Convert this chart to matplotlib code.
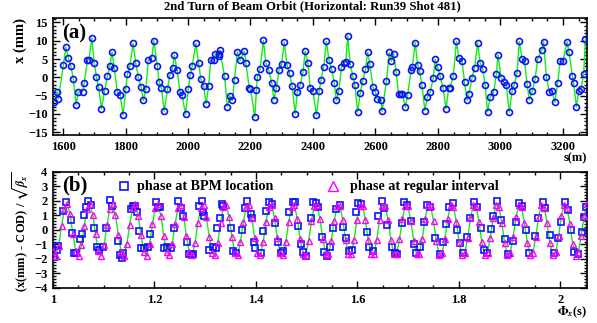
import numpy as np
import matplotlib
matplotlib.use("Agg")
import matplotlib.pyplot as plt
from matplotlib.ticker import MultipleLocator

# --- dane (a): orbita w BPM ---
s_bpm = [1571, 1582, 1585, 1601, 1609, 1617, 1625, 1633, 1642, 1649, 1663, 1668, 1678, 1683, 1692,
         1700, 1707, 1714, 1723, 1733, 1742, 1750, 1757, 1764, 1774, 1783, 1792, 1801, 1806, 1814,
         1824, 1833, 1841, 1850, 1857, 1865, 1873, 1884, 1891, 1902, 1908, 1915, 1924, 1934, 1942,
         1951, 1956, 1965, 1974, 1981, 1992, 2001, 2007, 2014, 2025, 2034, 2041, 2050, 2058, 2066,
         2073, 2084, 2087, 2098, 2099, 2102, 2117, 2126, 2134, 2142, 2149, 2158, 2166, 2180, 2185,
         2196, 2200, 2214, 2219, 2222, 2231, 2241, 2249, 2258, 2268, 2275, 2283, 2291, 2300, 2308,
         2317, 2325, 2333, 2343, 2350, 2359, 2368, 2375, 2384, 2391, 2400, 2411, 2420, 2426, 2434,
         2443, 2451, 2460, 2468, 2475, 2483, 2491, 2498, 2505, 2511, 2519, 2527, 2534, 2543, 2551,
         2559, 2568, 2575, 2582, 2592, 2600, 2605, 2618, 2621, 2635, 2644, 2651, 2658, 2666, 2674,
         2682, 2686, 2696, 2703, 2714, 2718, 2727, 2735, 2741, 2749, 2758, 2766, 2775, 2785, 2791,
         2799, 2807, 2816, 2826, 2834, 2839, 2849, 2859, 2867, 2877, 2885, 2893, 2899, 2909, 2917,
         2927, 2935, 2943, 2951, 2959, 2967, 2978, 2987, 2992, 3002, 3010, 3019, 3028, 3037, 3044,
         3053, 3060, 3069, 3077, 3085, 3092, 3102, 3111, 3119, 3133, 3138, 3147, 3156, 3165, 3174,
         3183, 3191, 3200, 3213, 3219, 3230, 3234, 3243, 3251, 3258, 3266, 3272]
x_bpm = [-6.8, -4.0, -5.9, 3.3, 8.2, 5.3, 3.0, -0.4, -7.5, -3.9, -3.9, -1.6, 4.6, 4.7, 10.8,
         3.9, 0.0, -2.7, -8.6, -3.8, 0.3, 3.0, 6.9, 2.6, -4.1, -4.8, -10.4, -3.1, 0.8, 3.0,
         9.3, 3.8, 0.0, -2.7, -6.3, -3.3, 4.7, 5.4, 10.0, 3.0, -1.4, -2.9, -9.3, -3.3, 0.6,
         2.6, 6.1, 2.1, -3.9, -4.8, -10.1, -3.2, 0.6, 3.2, 9.3, 3.8, -0.4, -2.4, -7.2, -2.4,
         4.8, 4.7, 6.5, 6.5, 5.9, 7.4, 0.3, -8.0, -5.0, -6.3, -0.6, 7.0, 4.6, 7.2, 4.0,
         -2.8, -3.2, -10.8, -3.4, 0.0, 2.3, 10.1, 4.0, 2.0, -1.5, -6.1, -2.9, 2.0, 3.6, 9.6,
         3.3, 1.1, -2.3, -10.0, -3.9, -2.2, 1.5, 7.2, 3.9, -2.9, -3.7, -10.4, -3.6, -0.6, 2.8,
         9.8, 4.7, 2.2, -1.6, -6.3, -3.6, 2.7, 3.9, 4.1, 11.3, 3.6, 0.5, -2.0, -9.4, -4.3,
         -1.1, 2.2, 6.8, 3.6, -2.7, -3.9, -5.9, -6.3, -9.3, -1.1, 6.8, 4.4, 6.5, 1.5, -4.5,
         -4.5, -4.5, -8.2, -4.7, 1.9, 2.8, 9.5, 3.5, 1.7, -2.2, -9.1, -5.4, -4.1, -0.1, 4.9,
         2.7, 0.3, -2.8, -8.6, -3.0, -2.8, 0.3, 9.8, 5.3, 4.4, -1.3, -6.3, -4.5, -0.2, 2.6,
         9.4, 4.0, 2.3, -2.2, -9.4, -5.4, -4.1, 0.9, 6.2, -0.1, -1.3, -2.2, -9.5, -3.8, -2.0,
         1.2, 9.8, 5.1, 4.4, -1.7, -6.1, -3.6, -0.5, 5.1, 7.6, 9.7, 0.1, -3.9, -3.6, -6.8,
         -1.6, 4.4, 4.4, 9.7, 7.0, 0.4, -1.6, -8.0, -3.6, -3.1, 0.8, 10.4]

# --- dane (b): faza w BPM (kwadraty) ---
phi_bpm = [1.0020, 1.0072, 1.0099, 1.0191, 1.0257, 1.0349, 1.0368, 1.0414, 1.0454, 1.0533,
           1.0572, 1.0618, 1.0651, 1.0697, 1.0743, 1.0809, 1.0868, 1.0907, 1.0993, 1.1045,
           1.1124, 1.1164, 1.1275, 1.1321, 1.1354, 1.1387, 1.1532, 1.1571, 1.1617, 1.1663,
           1.1703, 1.1742, 1.1795, 1.1874, 1.1913, 1.2031, 1.2077, 1.2110, 1.2196, 1.2255,
           1.2334, 1.2387, 1.2466, 1.2518, 1.2571, 1.2636, 1.2689, 1.2735, 1.2768, 1.2886,
           1.2932, 1.2952, 1.2985, 1.3084, 1.3163, 1.3209, 1.3241, 1.3294, 1.3333, 1.3360,
           1.3511, 1.3557, 1.3609, 1.3721, 1.3787, 1.3833, 1.3899, 1.3925, 1.3964, 1.3991,
           1.4096, 1.4148, 1.4201, 1.4267, 1.4313, 1.4379, 1.4444, 1.4497, 1.4543, 1.4661,
           1.4727, 1.4773, 1.4839, 1.4885, 1.4938, 1.4990, 1.5089, 1.5135, 1.5187, 1.5227,
           1.5299, 1.5345, 1.5398, 1.5463, 1.5516, 1.5582, 1.5661, 1.5727, 1.5779, 1.5832,
           1.5891, 1.5976, 1.6022, 1.6068, 1.6187, 1.6239, 1.6318, 1.6417, 1.6482, 1.6528,
           1.6594, 1.6680, 1.6739, 1.6778, 1.6877, 1.6923, 1.6975,
           1.7054, 1.7120, 1.7159, 1.7238, 1.7317, 1.7383, 1.7435, 1.7534, 1.7633, 1.7698,
           1.7751, 1.7817, 1.7883, 1.7961, 1.8027, 1.8080, 1.8159, 1.8224, 1.8303, 1.8356,
           1.8435, 1.8500, 1.8566, 1.8632, 1.8685, 1.8764, 1.8830, 1.8908, 1.8980, 1.9066,
           1.9132, 1.9198, 1.9250, 1.9329, 1.9395, 1.9513, 1.9572, 1.9658, 1.9704, 1.9802,
           1.9881, 1.9967, 2.0013, 2.0099, 2.0145, 2.0211, 2.0276, 2.0361, 2.0427, 2.0473, 2.0512]
y_bpm = [-1.84, -1.38, -1.08, 1.31, 1.95, 0.71, -0.23, -1.61, -1.61, -0.62,
         -0.30, 1.03, 1.59, 2.00, 1.72, 0.16, -1.20, -1.38, -1.20, 0.11,
         2.09, 1.68, -0.76, -1.72, -1.91, -1.61, 1.45, 1.68, 1.68, 1.22,
         -0.07, -1.26, -1.26, -1.17, -0.30, 1.95, 1.59, 1.59, -1.26, -1.17,
         -1.22, 0.16, 2.00, 1.54, 0.99, -0.85, -1.66, -1.72, -1.63, 1.63,
         2.00, 1.26, 0.99, -1.40, -1.17, -1.24, 0.16, 0.85, 1.82, 1.63,
         0.11, -1.43, -1.61, 0.00, 1.49, 2.00, 1.08, 0.80, -0.80, -1.22,
         -1.61, -0.07, 1.31, 1.91, 1.79, 0.46, -0.80, -1.59, -1.45, 1.22,
         1.91, 1.95, 0.30, -0.99, -1.49, -1.77, 0.85, 1.95, 1.84, 1.61,
         -0.46, -1.49, -1.77, -1.15, 0.11, 1.45, 1.72, 0.23, -0.57, -1.45,
         -1.38, 1.26, 1.84, 1.77, -0.11, -1.15, -1.45, 0.99, 2.00, 1.54,
         0.34, -1.15, -1.61, -1.68, 0.46, 1.91, 1.72,
         0.62, -0.99, -1.61, -1.15, 0.53, 1.72, 1.61, -0.57, -1.68, -0.80,
         0.39, 1.61, 1.84, 0.00, -0.92, -1.61, -0.46, 0.85, 1.95, 1.61,
         0.11, -1.38, -1.61, 0.07, 0.99, 2.00, 0.69, -0.62, -1.68, -0.76,
         0.53, 1.84, 1.68, 0.00, -1.61, -0.39, 0.85, 1.91, 1.54, -0.34,
         -1.61, -0.57, 0.57, 1.91, 1.38, 0.00, -1.49, -1.68, -0.11, 0.92, 1.59]

# --- dane (b): faza w regularnych odstepach (trojkaty), krok 0.0056 ---
phi_reg = np.round(np.arange(1.0, 2.0531, 0.0056), 4)
y_reg = [-1.43, -1.78, -1.08, 0.26, 1.45, 1.78, 1.07, -0.28,
         -1.44, -1.78, -1.06, 0.28, 1.46, 1.78, 1.05, -0.30,
         -1.47, -1.77, -1.02, 0.33, 1.48, 1.77, 1.01, -0.34,
         -1.49, -1.77, -0.99, 0.36, 1.50, 1.76, 0.99, -0.37,
         -1.51, -1.76, -0.97, 0.39, 1.52, 1.76, 0.96, -0.41,
         -1.53, -1.75, -0.94, 0.42, 1.54, 1.75, 0.93, -0.44,
         -1.55, -1.74, -0.91, 0.45, 1.55, 1.74, 0.90, -0.47,
         -1.57, -1.73, -0.88, 0.49, 1.57, 1.73, 0.87, -0.50,
         -1.58, -1.73, -0.85, 0.52, 1.59, 1.72, 0.84, -0.53,
         -1.60, -1.72, -0.82, 0.55, 1.60, 1.71, 0.81, -0.57,
         -1.61, -1.71, -0.80, 0.58, 1.62, 1.70, 0.78, -0.60,
         -1.63, -1.70, -0.77, 0.61, 1.63, 1.69, 0.75, -0.63,
         -1.64, -1.68, -0.74, 0.64, 1.65, 1.68, 0.72, -0.66,
         -1.65, -1.67, -0.71, 0.67, 1.66, 1.66, 0.69, -0.69,
         -1.66, -1.66, -0.68, 0.70, 1.67, 1.65, 0.66, -0.72,
         -1.68, -1.65, -0.65, 0.73, 1.68, 1.64, 0.63, -0.75,
         -1.69, -1.63, -0.62, 0.76, 1.69, 1.63, 0.60, -0.78,
         -1.70, -1.62, -0.59, 0.79, 1.70, 1.61, 0.57, -0.81,
         -1.71, -1.61, -0.55, 0.82, 1.72, 1.60, 0.54, -0.84,
         -1.72, -1.59, -0.52, 0.85, 1.72, 1.58, 0.51, -0.87,
         -1.73, -1.57, -0.49, 0.88, 1.73, 1.57, 0.48, -0.89,
         -1.74, -1.56, -0.46, 0.91, 1.74, 1.55, 0.45, -0.92,
         -1.75, -1.54, -0.43, 0.94, 1.75, 1.53, 0.41, -0.95,
         -1.76, -1.52, -0.40, 0.96, 1.76]
n_reg = min(len(phi_reg), len(y_reg))
phi_reg = phi_reg[:n_reg]
y_reg = y_reg[:n_reg]

plt.rcParams['font.family'] = 'Liberation Serif'
plt.rcParams['font.weight'] = 'bold'
plt.rcParams['mathtext.fontset'] = 'stix'

fig = plt.figure(figsize=(5.97, 3.23), dpi=100)
ax1 = fig.add_axes([0.0888, 0.582, 0.8945, 0.3622])
ax2 = fig.add_axes([0.0888, 0.1084, 0.8945, 0.3591])

# (a)
ax1.plot(s_bpm, x_bpm, color='#11ee11', lw=1.0, zorder=2)
ax1.plot(s_bpm, x_bpm, ls='none', marker='o', ms=4.3, mfc='none', mec='#1010ff', mew=1.2, zorder=3)
ax1.set_xlim(1568, 3277)
ax1.set_ylim(-15.75, 16.2)
ax1.xaxis.set_major_locator(MultipleLocator(200))
ax1.xaxis.set_minor_locator(MultipleLocator(50))
ax1.yaxis.set_major_locator(MultipleLocator(5))
ax1.yaxis.set_minor_locator(MultipleLocator(1))
ax1.text(0.017, 0.955, '(a)', transform=ax1.transAxes, fontsize=15, fontweight='bold', va='top')

# (b)
ax2.plot(phi_reg, y_reg, color='#11ee11', lw=1.0, zorder=2)
ax2.plot(phi_bpm, y_bpm, ls='none', marker='s', ms=4.6, mfc='none', mec='#1010ff', mew=1.2, zorder=3)
ax2.plot(phi_reg, y_reg, ls='none', marker='^', ms=4.8, mfc='none', mec='#ff00ff', mew=1.0, zorder=4)
ax2.set_xlim(1.0, 2.053)
ax2.set_ylim(-4, 4)
ax2.xaxis.set_major_locator(MultipleLocator(0.2))
ax2.xaxis.set_minor_locator(MultipleLocator(0.05))
ax2.yaxis.set_major_locator(MultipleLocator(1))
ax2.yaxis.set_minor_locator(MultipleLocator(0.2))
ax2.set_xticks([1.0, 1.2, 1.4, 1.6, 1.8, 2.0])
ax2.set_xticklabels(['1', '1.2', '1.4', '1.6', '1.8', '2'])
ax2.text(0.017, 0.97, '(b)', transform=ax2.transAxes, fontsize=15, fontweight='bold', va='top')

# legenda recznie
ax2.plot([0.133], [0.879], transform=ax2.transAxes, marker='s', ms=6, mfc='none', mec='#1010ff', mew=1.2)
ax2.text(0.157, 0.879, 'phase at BPM location', transform=ax2.transAxes, fontsize=10.2, va='center')
ax2.plot([0.524], [0.879], transform=ax2.transAxes, marker='^', ms=6.5, mfc='none', mec='#ff00ff', mew=1.0)
ax2.text(0.556, 0.879, 'phase at regular interval', transform=ax2.transAxes, fontsize=10.2, va='center')

for ax in (ax1, ax2):
    ax.tick_params(which='both', direction='in', top=True, right=True, labelsize=9, width=1.0)
    ax.tick_params(which='major', length=5, pad=4)
    ax.tick_params(which='minor', length=2.5)
    for sp in ax.spines.values():
        sp.set_linewidth(1.2)

fig.text(0.524, 0.981, '2nd Turn of Beam Orbit (Horizontal: Run39 Shot 481)', ha='center', va='center',
         fontsize=9.2, fontweight='bold')
fig.text(0.034, 0.944, 'x (mm)', rotation=90, ha='center', va='top', fontsize=10.5, fontweight='bold')
fig.text(0.034, 0.4675, '(x(mm) - COD) / $\\sqrt{\\beta_x}$', rotation=90, ha='center', va='top', fontsize=9)
fig.text(0.983, 0.530, 's(m)', ha='right', va='top', fontsize=9, fontweight='bold')
fig.text(0.983, 0.058, '$\\Phi_x$(s)', ha='right', va='top', fontsize=9, fontweight='bold')

fig.savefig('out.png', dpi=100)
